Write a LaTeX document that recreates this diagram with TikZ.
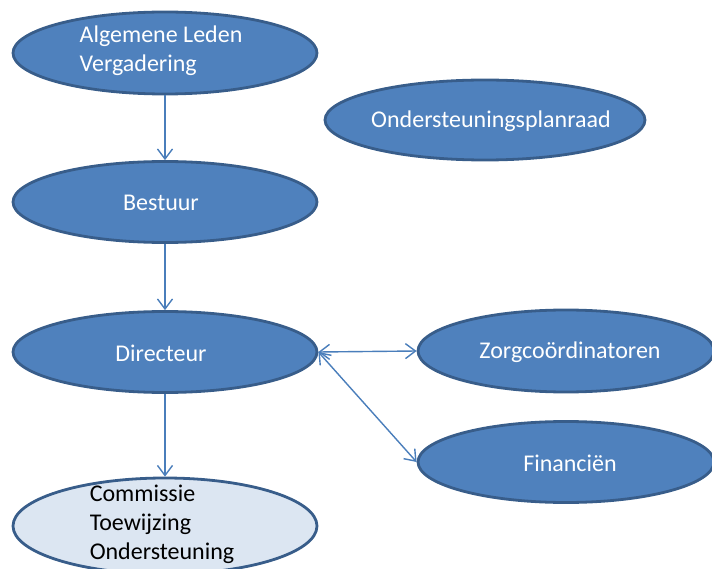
\documentclass[tikz,border=0pt]{standalone}
\usepackage{fontspec}
\setmainfont{Carlito}
\usetikzlibrary{shapes.geometric,arrows.meta}
\definecolor{fillblue}{HTML}{4F81BD}
\definecolor{edgeblue}{HTML}{385D8A}
\definecolor{lightfill}{HTML}{DCE6F2}
\definecolor{arrowblue}{HTML}{4A7EBB}
\tikzset{
  blob/.style={ellipse, draw=edgeblue, fill=fillblue, line width=2.8pt, inner sep=0pt},
  lightblob/.style={ellipse, draw=edgeblue, fill=lightfill, line width=2.8pt, inner sep=0pt},
  wtxt/.style={text=white, font=\fontsize{24}{29}\selectfont, align=left, inner sep=0pt},
  btxt/.style={text=black, font=\fontsize{24}{29}\selectfont, align=left, inner sep=0pt},
  link/.style={draw=arrowblue, line width=1.4pt},
  tip/.style={-{Straight Barb[length=10pt,width=15pt]}},
  tips/.style={{Straight Barb[length=10pt,width=15pt]}-{Straight Barb[length=10pt,width=15pt]}}
}
\begin{document}
\begin{tikzpicture}[x=1pt,y=-1pt]
\useasboundingbox (0,0) rectangle (712,569);
\node[blob, minimum width=304pt, minimum height=82pt] (alv) at (165,53) {};
\node[wtxt] (alvt) at (161,51) {Algemene Leden\\Vergadering};
\node[blob, minimum width=320pt, minimum height=80pt] (opr) at (485,120) {};
\node[wtxt] (oprt) at (491,121) {Ondersteuningsplanraad};
\node[blob, minimum width=304pt, minimum height=81pt] (best) at (165,202) {};
\node[wtxt] (bestt) at (161,203) {Bestuur};
\node[blob, minimum width=304pt, minimum height=81pt] (dir) at (165,352) {};
\node[wtxt] (dirt) at (161,353) {Directeur};
\node[blob, minimum width=296pt, minimum height=82pt] (zorg) at (566,351) {};
\node[wtxt] (zorgt) at (570,352) {Zorgcoördinatoren};
\node[blob, minimum width=296pt, minimum height=81pt] (fin) at (566,462) {};
\node[wtxt] (fint) at (570,463) {Financiën};
\node[lightblob, minimum width=304pt, minimum height=96pt] (com) at (165,526) {};
\node[btxt] (comt) at (162,524) {Commissie\\Toewijzing\\Ondersteuning};
\draw[link,tip] (alv) -- (best);
\draw[link,tip] (best) -- (dir);
\draw[link,tip] (dir) -- (com);
\draw[link,tips] (dir.east) -- (zorg.west);
\draw[link,tips] (dir.east) -- (fin.west);
\end{tikzpicture}
\end{document}
